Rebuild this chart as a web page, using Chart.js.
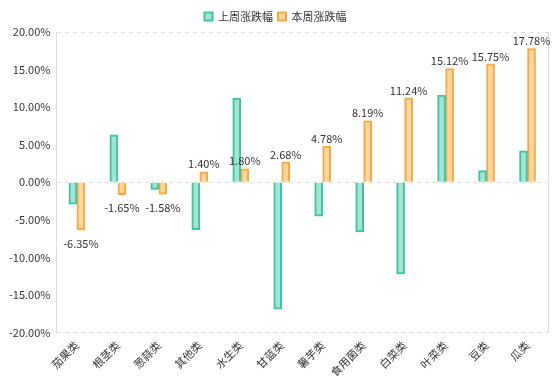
<!DOCTYPE html>
<html><head><meta charset="utf-8">
<script src="https://cdn.jsdelivr.net/npm/chart.js@4/dist/chart.umd.min.js"></script>
<style>html,body{margin:0;padding:0;background:#fff}#w{width:554px;height:389px}</style>
</head><body><div id="w"><canvas id="c"></canvas></div>
<script>
const categories = ['茄果类','根茎类','葱蒜类','其他类','水生类','甘蓝类','薯芋类','食用菌类','白菜类','叶菜类','豆类','瓜类'];
const lastWeek = [-2.9, 6.3, -0.95, -6.3, 11.2, -16.9, -4.5, -6.6, -12.2, 11.6, 1.55, 4.2];
const thisWeek = [-6.35, -1.65, -1.58, 1.40, 1.80, 2.68, 4.78, 8.19, 11.24, 15.12, 15.75, 17.78];
const seriesNames = ['上周涨跌幅','本周涨跌幅'];
const FONT = '"Noto Sans CJK SC", "Noto Sans", sans-serif';

const labelPlugin = {
  id: 'vlabels',
  afterDatasetsDraw(chart) {
    const ctx = chart.ctx;
    const meta = chart.getDatasetMeta(1);
    ctx.save();
    ctx.font = '11px ' + FONT;
    ctx.fillStyle = '#333';
    ctx.textAlign = 'center';
    meta.data.forEach((bar, i) => {
      const v = thisWeek[i];
      const t = v.toFixed(2) + '%';
      if (v >= 0) { ctx.textBaseline = 'bottom'; ctx.fillText(t, bar.x, bar.y - 2); }
      else { ctx.textBaseline = 'top'; ctx.fillText(t, bar.x, bar.y + 8); }
    });
    ctx.restore();
  }
};

new Chart(document.getElementById('c'), {
  type: 'bar',
  data: {
    labels: categories,
    datasets: [
      { label: seriesNames[0], data: lastWeek, backgroundColor: '#a3e4d3', borderColor: '#3fc3a3', borderWidth: 2, barThickness: 8 },
      { label: seriesNames[1], data: thisWeek, backgroundColor: '#ffd69f', borderColor: '#f7a941', borderWidth: 2, barThickness: 8 }
    ]
  },
  options: {
    responsive: true, maintainAspectRatio: false, animation: false,
    layout: { padding: { left: 3, right: 6, top: 6, bottom: 4 } },
    plugins: {
      legend: { position: 'top', labels: { font: { family: FONT, size: 11 }, color: '#333', boxWidth: 8, boxHeight: 8, padding: 5 } },
      tooltip: { enabled: false }
    },
    scales: {
      x: {
        grid: { offset: true, color: c => (c.index === 0 || c.index === undefined) ? '#dddddd' : 'rgba(0,0,0,0)', tickLength: 0 },
        border: { display: false },
        ticks: { font: { family: FONT, size: 11 }, color: '#333', maxRotation: 45, minRotation: 45, autoSkip: false, padding: 6 }
      },
      y: {
        min: -20, max: 20,
        ticks: { stepSize: 5, font: { family: FONT, size: 11 }, color: '#333', padding: 6, callback: v => v.toFixed(2) + '%' },
        grid: { color: c => (c.tick && (c.tick.value === 20 || c.tick.value === -20 || c.tick.value === 0)) ? '#dddddd' : 'rgba(0,0,0,0)', tickLength: 0 },
        border: { display: true, dash: [4, 4], color: '#dddddd' }
      }
    }
  },
  plugins: [labelPlugin]
});
</script>
</body></html>
